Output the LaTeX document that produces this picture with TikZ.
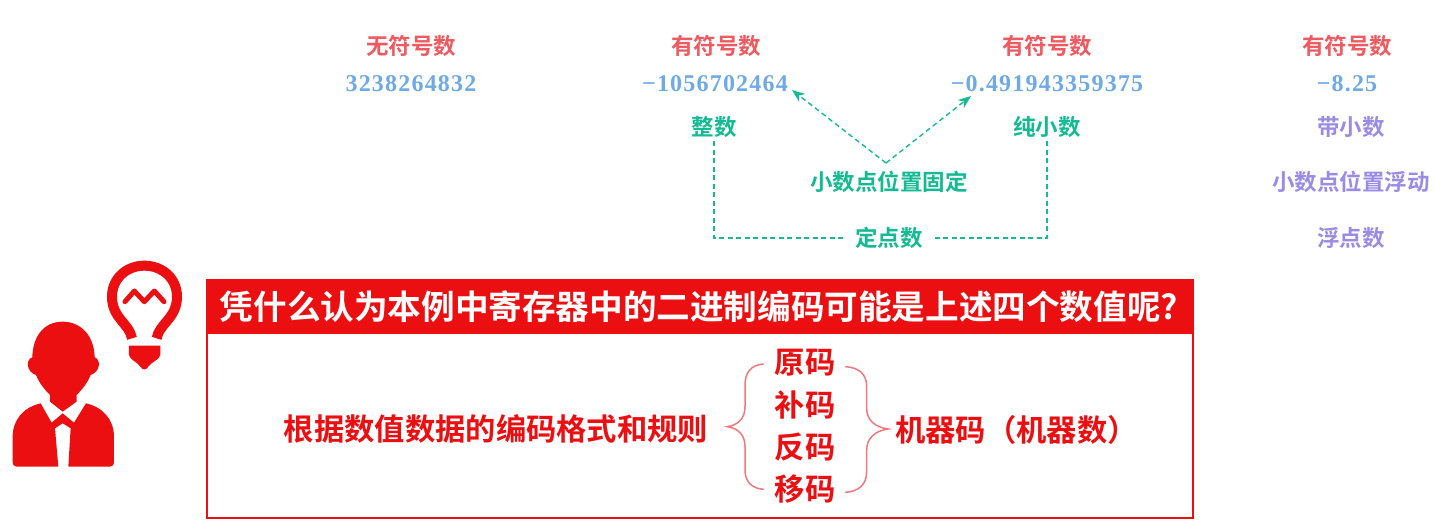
\documentclass[tikz,border=0pt]{standalone}
\usepackage{fontspec}
\setmainfont{Noto Sans CJK SC}[BoldFont={* Bold}]
\newfontfamily\numfont{Liberation Serif}[BoldFont={* Bold},LetterSpace=5]
\usetikzlibrary{arrows.meta}
\definecolor{hdr}{HTML}{EC0F12}
\definecolor{rlab}{HTML}{EE5A60}
\definecolor{blab}{HTML}{6FAAE6}
\definecolor{glab}{HTML}{14BB92}
\definecolor{plab}{HTML}{9A8CE6}
\definecolor{brace}{HTML}{EE7A80}
\tikzset{
  x=1pt,y=-1pt,
  lab/.style={font=\fontsize{22.5}{24}\selectfont\bfseries,inner sep=0pt,text height=17pt,text depth=3pt},
  redlab/.style={lab,text=rlab},
  greenlab/.style={lab,text=glab},
  purplelab/.style={lab,text=plab},
  numlab/.style={font=\fontsize{24}{26}\selectfont\numfont\bfseries,text=blab,inner sep=0pt},
  biglab/.style={font=\fontsize{30.3}{32}\selectfont\bfseries,text=hdr,inner sep=0pt},
  gdash/.style={draw=glab,line width=1.4pt,dash pattern=on 5pt off 3.5pt},
  gtip/.style={-{Stealth[length=13pt,width=10pt]}},
  bracket/.style={draw=brace,line width=1.5pt,line cap=round},
  icon/.style={fill=hdr,draw=none}
}
\begin{document}
\begin{tikzpicture}
\useasboundingbox (0,0) rectangle (1435,528);
\fill[white] (0,0) rectangle (1435,528);
% top labels
\node[redlab] (a1) at (411,47) {无符号数};
\node[redlab] (a2) at (716,47) {有符号数};
\node[redlab] (a3) at (1047,47) {有符号数};
\node[redlab] (a4) at (1347,47) {有符号数};
\node[numlab] (n1) at (411,84) {3238264832};
\node[numlab] (n2) at (715,84) {−1056702464};
\node[numlab] (n3) at (1047,84) {−0.491943359375};
\node[numlab] (n4) at (1347,84) {−8.25};
\node[greenlab,inner ysep=3pt] (zs) at (714,128) {整数};
\node[greenlab,inner ysep=3pt] (cx) at (1047,128) {纯小数};
\node[purplelab] (dx) at (1351,128) {带小数};
\node[greenlab,inner ysep=4pt] (gd) at (889,183) {小数点位置固定};
\node[purplelab] (fd) at (1351,183) {小数点位置浮动};
\node[greenlab,inner xsep=10pt] (dd) at (889,239) {定点数};
\node[purplelab] (fs) at (1351,239) {浮点数};
% connectors
\coordinate (tipL) at (792,90);
\coordinate (tipR) at (971,96);
\coordinate (root) at (886,163);
\coordinate (lineL) at (714,238);
\coordinate (lineR) at (1047,238);
\draw[gdash,gtip] (root) -- (tipL);
\draw[gdash,gtip] (root) -- (tipR);
\draw[gdash] (zs.south) -- (lineL) -- (dd.west |- lineL);
\draw[gdash] (cx.south) -- (lineR) -- (dd.east |- lineR);
% red box
\draw[hdr,line width=2pt] (207,333) rectangle (1193,518);
\fill[hdr] (206,279) rectangle (1194,334);
\node[font=\fontsize{33.6}{35}\selectfont\bfseries,text=white,inner sep=0pt] (title) at (699,307) {凭什么认为本例中寄存器中的二进制编码可能是上述四个数值呢?};
\node[biglab] (gj) at (496,429) {根据数值数据的编码格式和规则};
\node[biglab] (m1) at (805,363) {原码};
\node[biglab] (m2) at (805,405) {补码};
\node[biglab] (m3) at (805,447) {反码};
\node[biglab] (m4) at (805,489) {移码};
\node[biglab,anchor=west] (jq) at (895,430) {机器码（机器数）};
% braces
\begin{scope}[shift={(700,330)},x=.3333pt,y=-.3333pt]
\draw[bracket] (190,102) .. controls (155,105) and (135,125) .. (135,165) -- (135,230) .. controls (135,265) and (115,285) .. (82,290) .. controls (115,295) and (135,315) .. (135,350) -- (135,420) .. controls (135,455) and (155,475) .. (190,478);
\draw[bracket] (437,110) .. controls (475,113) and (500,130) .. (500,170) -- (500,235) .. controls (500,270) and (525,292) .. (565,297) .. controls (525,302) and (500,325) .. (500,360) -- (500,425) .. controls (500,465) and (475,484) .. (437,487);
\end{scope}
% person and bulb
\begin{scope}[shift={(0,250)},x=.3333pt,y=-.3333pt]
\fill[icon] (188,215) .. controls (245,215) and (283,260) .. (284,322) .. controls (303,328) and (302,365) .. (272,375) .. controls (262,400) and (245,420) .. (230,435) -- (230,455) -- (188,485) -- (150,455) -- (150,435) .. controls (135,420) and (118,400) .. (108,375) .. controls (78,365) and (77,328) .. (97,322) .. controls (98,260) and (131,215) .. (188,215) -- cycle;
\fill[icon] (122,460) -- (155,518) -- (188,490) -- (222,518) -- (258,460) .. controls (310,472) and (342,510) .. (342,560) -- (342,635) .. controls (342,645) and (337,650) .. (330,650) -- (205,650) -- (212,535) -- (188,520) -- (165,535) -- (175,650) -- (50,650) .. controls (43,650) and (38,645) .. (38,635) -- (38,560) .. controls (38,510) and (70,472) .. (122,460) -- cycle;
\draw[hdr,line width=10pt] (396,265) .. controls (388,220) and (336,205) .. (336,140) .. controls (336,85) and (380,47) .. (433,47) .. controls (487,47) and (531,85) .. (531,140) .. controls (531,205) and (478,220) .. (470,265);
\draw[hdr,line width=5pt,line cap=round,line join=round] (375,155) -- (403,123) -- (433,155) -- (463,123) -- (492,155);
\fill[icon] (387,287) -- (481,287) -- (481,315) .. controls (478,330) and (455,335) .. (445,350) .. controls (438,361) and (428,361) .. (421,350) .. controls (411,335) and (390,330) .. (387,315) -- cycle;
\end{scope}
\end{tikzpicture}
\end{document}
